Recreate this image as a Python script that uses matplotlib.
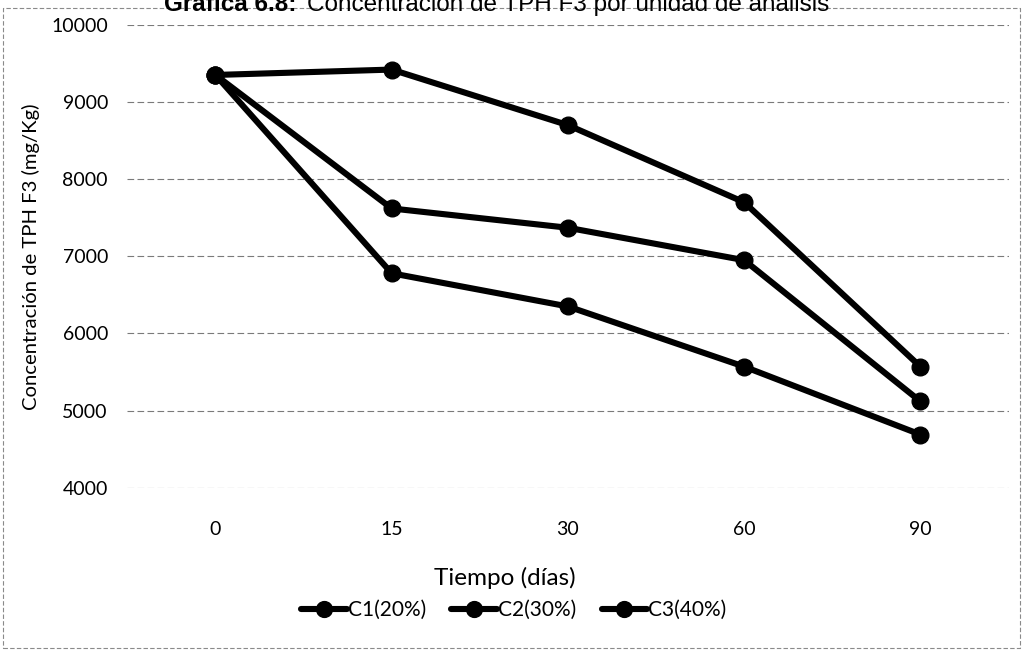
import matplotlib
matplotlib.use("Agg")
import matplotlib.pyplot as plt
from matplotlib.patches import Rectangle

# Data
tiempo_labels = ["0", "15", "30", "60", "90"]
c1_20 = [9350, 9420, 8700, 7700, 5570]
c2_30 = [9350, 7620, 7370, 6950, 5120]
c3_40 = [9350, 6780, 6350, 5570, 4690]
series_names = ["C1(20%)", "C2(30%)", "C3(40%)"]
y_ticks = [4000, 5000, 6000, 7000, 8000, 9000, 10000]

font = "Lato"

fig = plt.figure(figsize=(10.27, 6.53), dpi=100)
ax = fig.add_axes([0.124, 0.253, 0.858, 0.709])

x = list(range(len(tiempo_labels)))
for vals, name in zip([c1_20, c2_30, c3_40], series_names):
    ax.plot(x, vals, color="black", linewidth=4.4, marker="o",
            markersize=12, label=name, solid_capstyle="round", zorder=3)

ax.set_xlim(-0.5, len(tiempo_labels) - 0.5)
ax.set_ylim(4000, 10000)
ax.set_yticks(y_ticks)
ax.set_yticklabels([str(v) for v in y_ticks], fontsize=14, family=font)
ax.set_xticks(x)
ax.set_xticklabels(tiempo_labels, fontsize=14, family=font)
ax.tick_params(axis="both", length=0)
ax.tick_params(axis="x", pad=24)
ax.tick_params(axis="y", pad=14)
for s in ax.spines.values():
    s.set_visible(False)
ax.yaxis.grid(True, color="#7a7a7a", linestyle=(0, (6, 3)), linewidth=0.8, zorder=0)
ax.set_axisbelow(True)

ax.set_ylabel("Concentración de TPH F3 (mg/Kg)", fontsize=14.6, family=font, labelpad=8)

# x-axis title (centred under the chart area as in the reference)
fig.text(505 / 1027, 1 - 578 / 653, "Tiempo (días)", fontsize=17.5, family=font,
         ha="center", va="center")

leg = fig.legend(loc="center", bbox_to_anchor=(514 / 1027, 1 - 610 / 653), ncol=3,
                 frameon=False, prop={"family": font, "size": 15},
                 handlelength=2.2, columnspacing=1.2, handletextpad=0.05,
                 markerscale=0.95)

# Title (partially cut off at the top as in the scan)
fig.text(0.16, 1 - 11 / 653, "Gráfica 6.8:", fontsize=17.5, fontweight="bold",
         family="Liberation Sans", ha="left", va="baseline")
fig.text(0.299, 1 - 11 / 653, "Concentración de TPH F3 por unidad de análisis",
         fontsize=17.5, family="Liberation Sans", ha="left", va="baseline")

# Chart outer border
fig.patches.append(Rectangle((3 / 1027, 5 / 653), 1017 / 1027, 640 / 653,
                             transform=fig.transFigure, fill=False,
                             edgecolor="#8a8a8a", linewidth=0.8,
                             linestyle=(0, (4, 2))))

fig.savefig("out.png", dpi=100)
